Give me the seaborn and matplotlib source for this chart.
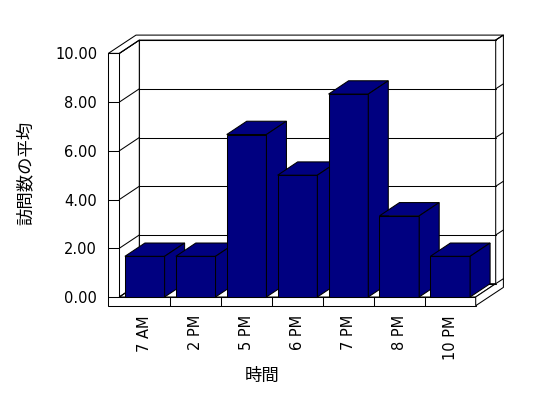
import numpy as np
import pandas as pd
import matplotlib
matplotlib.use("Agg")
import matplotlib.pyplot as plt
import seaborn as sns
from matplotlib.patches import Polygon
from matplotlib.lines import Line2D
from matplotlib.transforms import IdentityTransform

# ---- data ----
categories = ["7 AM", "2 PM", "5 PM", "6 PM", "7 PM", "8 PM", "10 PM"]
values = [1.67, 1.67, 6.67, 5.00, 8.33, 3.33, 1.67]
yticks = [0, 2, 4, 6, 8, 10]
ytick_labels = ["0.00", "2.00", "4.00", "6.00", "8.00", "10.00"]
x_label = "時間"
y_label = "訪問数の平均"

sns.set_theme(style="white")
plt.rcParams["font.family"] = ["DejaVu Sans", "Noto Sans CJK JP"]

W, H = 548, 398
fig = plt.figure(figsize=(W / 100, H / 100), dpi=100, facecolor="white")
fx0, fx1 = 119.3, 475.7      # front plane, pixel x
fy0, fy1 = 297.0, 53.4       # front plane, pixel y (value 0, value 10)
ax = fig.add_axes([fx0 / W, 1 - fy0 / H, (fx1 - fx0) / W, (fy0 - fy1) / H])

df = pd.DataFrame({"time": categories, "avg": values})
sns.barplot(data=df, x="time", y="avg", order=categories, color="#000080",
            saturation=1, width=0.78, edgecolor="black", linewidth=0.75, ax=ax)
ax.set_xlim(-0.5, len(categories) - 0.5)
ax.set_ylim(0, 10)
ax.set_xlabel("")
ax.set_ylabel("")
ax.set_yticks(yticks)
ax.set_yticklabels(ytick_labels)
ax.tick_params(axis="y", length=0, pad=16, labelsize=10.5, labelcolor="black")
ax.tick_params(axis="x", length=0, pad=13, labelsize=10.5, labelcolor="black",
               labelrotation=90)
for s in ax.spines.values():
    s.set_visible(False)
ax.grid(False)
ax.patch.set_visible(False)

# ---- 3D frame in display pixels ----
idt = IdentityTransform()
LW = 0.75
D = np.array([20.0, 13.3])    # depth of the plot box
T = np.array([7.7, 5.0])      # wall thickness (depth)
WL = np.array([11.0, 0.0])    # left wall thickness
HF = np.array([0.0, 8.7])     # floor thickness
nx = len(categories)


def disp(x, y):
    return np.array(ax.transData.transform((x, y)))


def poly(pts, z, fc="white"):
    ax.add_patch(Polygon(np.array(pts), closed=True, facecolor=fc,
                         edgecolor="black", linewidth=LW, transform=idt,
                         clip_on=False, zorder=z, joinstyle="miter"))


def line(p, q, z=1.5):
    ax.add_line(Line2D([p[0], q[0]], [p[1], q[1]], color="black", lw=LW,
                       transform=idt, clip_on=False, zorder=z))


A = disp(-0.5, 0)
B = disp(nx - 0.5, 0)
C = disp(-0.5, 10)
E = disp(nx - 0.5, 10)

poly([A + D, B + D, E + D, C + D], 1.0)                       # back wall face
poly([C, C + D, A + D, A], 1.0)                               # left wall inner
poly([A, B, B + D, A + D], 1.0)                               # floor top
poly([C - WL, C, C + D, E + D, E + D + T, C - WL + D + T], 1.1)  # wall tops
poly([C - WL, C, A, B, B - HF, A - WL - HF], 1.1)             # front L face
poly([B, B - HF, B - HF + D + T, E + D + T, E + D, B + D], 1.1)  # right side

for v in yticks:
    p = disp(-0.5, v)
    q = disp(nx - 0.5, v)
    line(p - WL, p)
    line(p, p + D)
    line(p + D, q + D)
    line(q + D, q + D + T)

for k in range(nx - 1):
    p = disp(k + 0.5, 0)
    line(p, p - HF)

# ---- bar depth faces from the bar geometry ----
for i, bar in enumerate(ax.patches[:nx]):
    xl, w, h = bar.get_x(), bar.get_width(), bar.get_height()
    bar.set_zorder(3 + 0.1 * i)
    bar.set_clip_on(False)
    p0 = disp(xl, h)
    p1 = disp(xl + w, h)
    p2 = disp(xl + w, 0)
    poly([p0, p1, p1 + D, p0 + D], 3 + 0.1 * i + 0.02, fc="#000080")
    poly([p2, p1, p1 + D, p2 + D], 3 + 0.1 * i + 0.02, fc="#000080")

fig.text(26 / W, 1 - 173 / H, y_label, rotation=90, ha="center", va="center",
         fontsize=12.5, color="black")
fig.text(262 / W, 1 - 376 / H, x_label, ha="center", va="center",
         fontsize=12.5, color="black")

fig.savefig("out.png", dpi=100, facecolor="white")
